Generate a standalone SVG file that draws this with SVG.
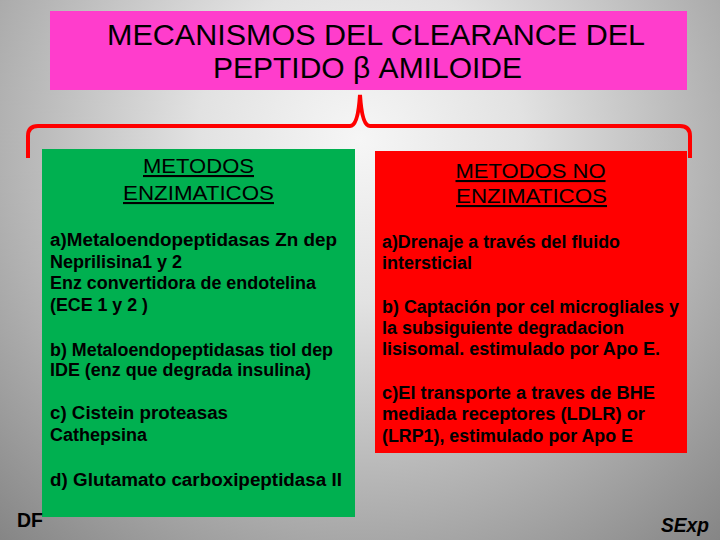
<svg xmlns="http://www.w3.org/2000/svg" width="720" height="540" viewBox="0 0 720 540">
<defs>
<radialGradient id="bg" cx="360" cy="140" r="540" gradientUnits="userSpaceOnUse">
<stop offset="0" stop-color="#f6f6f6"/>
<stop offset="0.3" stop-color="#e2e2e2"/>
<stop offset="1" stop-color="#858585"/>
</radialGradient>
<style>
.t{font-family:"Liberation Sans",Arial,sans-serif;fill:#000}
.title{font-size:29px;text-anchor:middle}
.hd{font-size:21px;text-anchor:middle;text-decoration:underline}
.b{font-weight:bold;font-size:17.5px}
.bl{font-weight:bold;font-size:18px}
</style>
</defs>
<rect width="720" height="540" fill="url(#bg)"/>
<g id="title">
<rect x="50" y="11" width="637" height="79" fill="#ff3dcc"/>
<text class="t title" x="376" y="45" textLength="538" lengthAdjust="spacingAndGlyphs">MECANISMOS DEL CLEARANCE DEL</text>
<text class="t title" x="367.5" y="78" textLength="309" lengthAdjust="spacingAndGlyphs">PEPTIDO β AMILOIDE</text>
</g>
<g id="connectors">
<path d="M28,158 L28,136 Q28,126 38,126 L350,126 Q358,126 360,95 Q362,126 370,126 L680,126 Q690,126 690,136 L690,158" fill="none" stroke="#ff0000" stroke-width="4"/>
</g>
<g id="enzimaticos">
<rect x="42" y="149" width="313" height="368" fill="#00b050"/>
<text class="t hd" x="198.5" y="173" textLength="111" lengthAdjust="spacingAndGlyphs">METODOS</text>
<text class="t hd" x="198.5" y="200" textLength="151" lengthAdjust="spacingAndGlyphs">ENZIMATICOS</text>
<text class="t bl" x="50" y="246" textLength="287" lengthAdjust="spacingAndGlyphs">a)Metaloendopeptidasas Zn dep</text>
<text class="t b" x="50" y="268" textLength="132" lengthAdjust="spacingAndGlyphs">Neprilisina1 y 2</text>
<text class="t b" x="50" y="289" textLength="266" lengthAdjust="spacingAndGlyphs">Enz convertidora de endotelina</text>
<text class="t b" x="50" y="311" textLength="98" lengthAdjust="spacingAndGlyphs">(ECE 1 y 2 )</text>
<text class="t b" x="50" y="356" textLength="283" lengthAdjust="spacingAndGlyphs">b) Metaloendopeptidasas tiol dep</text>
<text class="t b" x="50" y="376" textLength="261" lengthAdjust="spacingAndGlyphs">IDE (enz que degrada insulina)</text>
<text class="t bl" x="50" y="419" textLength="178" lengthAdjust="spacingAndGlyphs">c) Cistein proteasas</text>
<text class="t b" x="50" y="441" textLength="97" lengthAdjust="spacingAndGlyphs">Cathepsina</text>
<text class="t bl" x="50" y="486" textLength="292" lengthAdjust="spacingAndGlyphs">d) Glutamato carboxipeptidasa II</text>
</g>
<g id="no-enzimaticos">
<rect x="375" y="151" width="312" height="302" fill="#ff0000"/>
<text class="t hd" x="530.5" y="178" textLength="150" lengthAdjust="spacingAndGlyphs">METODOS NO</text>
<text class="t hd" x="531.5" y="203" textLength="151" lengthAdjust="spacingAndGlyphs">ENZIMATICOS</text>
<text class="t b" x="382" y="248" textLength="238" lengthAdjust="spacingAndGlyphs">a)Drenaje a través del fluido</text>
<text class="t b" x="382" y="269" textLength="90" lengthAdjust="spacingAndGlyphs">intersticial</text>
<text class="t b" x="382" y="313" textLength="297" lengthAdjust="spacingAndGlyphs">b) Captación por cel microgliales y</text>
<text class="t b" x="382" y="334" textLength="242" lengthAdjust="spacingAndGlyphs">la subsiguiente degradacion</text>
<text class="t b" x="382" y="355" textLength="278" lengthAdjust="spacingAndGlyphs">lisisomal. estimulado por Apo E.</text>
<text class="t b" x="382" y="399" textLength="273" lengthAdjust="spacingAndGlyphs">c)El transporte a traves  de BHE</text>
<text class="t b" x="382" y="420" textLength="263" lengthAdjust="spacingAndGlyphs">mediada  receptores (LDLR) or</text>
<text class="t b" x="382" y="442" textLength="251" lengthAdjust="spacingAndGlyphs">(LRP1), estimulado por Apo E</text>
</g>
<text class="t" x="17" y="527" font-weight="bold" font-size="20" textLength="26" lengthAdjust="spacingAndGlyphs">DF</text>
<text class="t" x="661" y="532" font-weight="bold" font-style="italic" font-size="20" textLength="48" lengthAdjust="spacingAndGlyphs">SExp</text>
</svg>
